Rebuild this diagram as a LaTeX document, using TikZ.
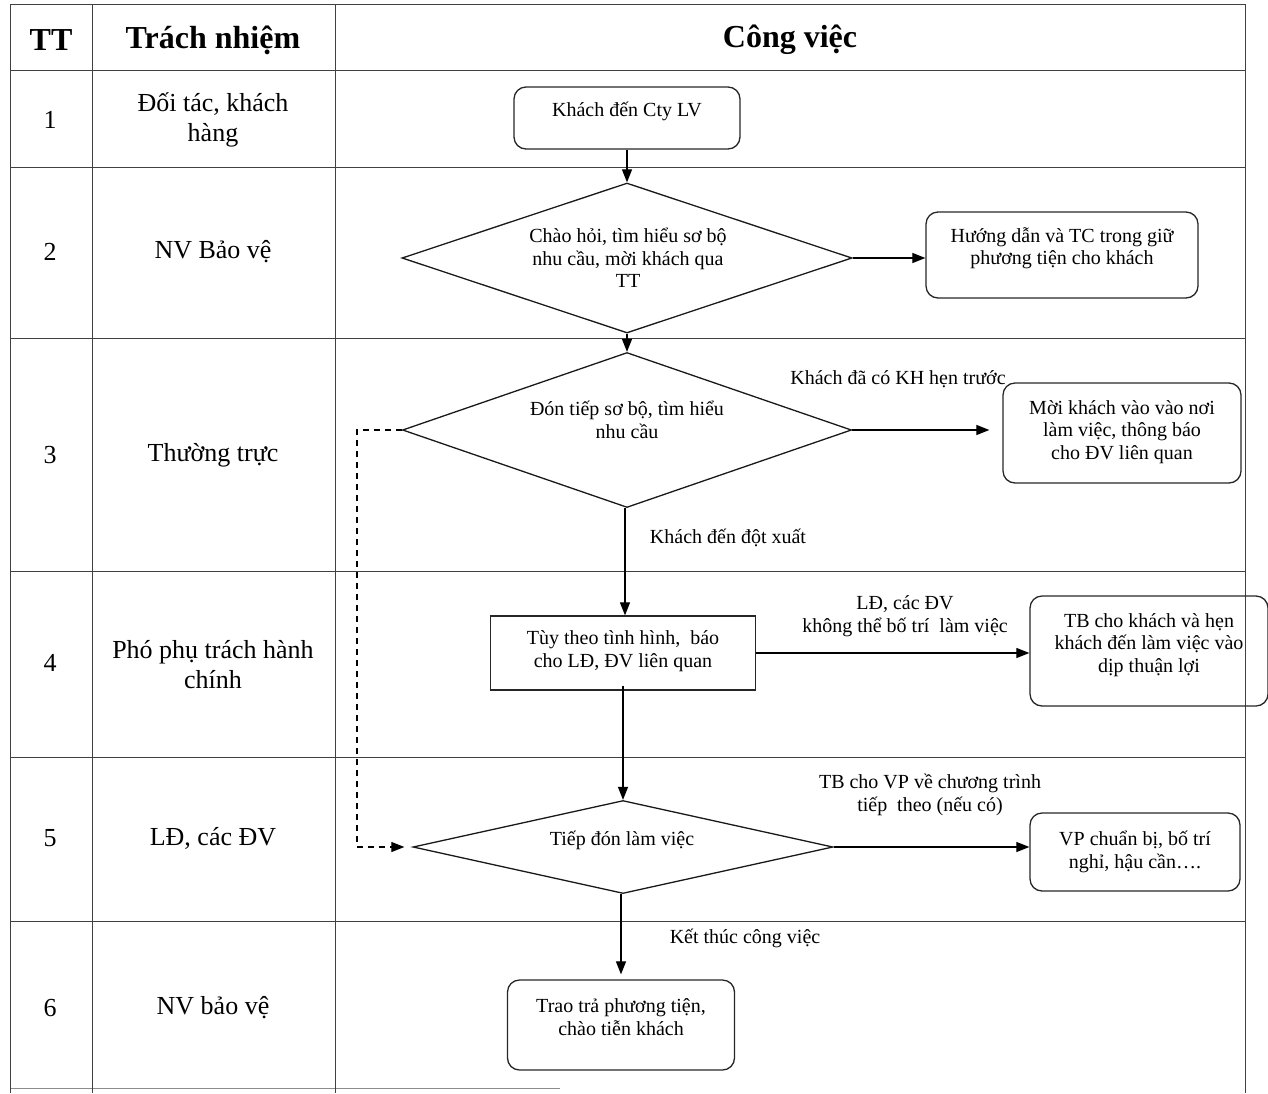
\documentclass[tikz,border=0pt]{standalone}
\usepackage{fontspec}
\setmainfont{Liberation Serif}
\usetikzlibrary{shapes.geometric,arrows.meta}
\begin{document}
\begin{tikzpicture}[x=1pt,y=-1pt,
 grid/.style={draw=black!75,line width=1pt},
 rbox/.style={draw=black!85,line width=1.3pt,rounded corners=12pt,inner sep=0pt},
 sbox/.style={draw=black!85,line width=1.3pt,inner sep=0pt},
 dia/.style={diamond,draw=black!90,line width=1.3pt,inner sep=0pt},
 txt/.style={align=center,font=\fontsize{20}{22.5}\selectfont,inner sep=0pt},
 cell/.style={align=center,font=\fontsize{26}{30}\selectfont,inner sep=0pt},
 head/.style={font=\fontsize{32}{36}\selectfont\bfseries,inner sep=0pt},
 arr/.style={-{Triangle[length=13pt,width=10pt]},line width=1.2pt},
 darr/.style={-{Triangle[length=13pt,width=10pt]},line width=1.2pt,dash pattern=on 6pt off 5pt},
]
\useasboundingbox (0,0) rectangle (1268,1093);
% table grid
\foreach \yy in {4,70,167,338,571,757,921}
  \draw[grid] (10,\yy) -- (1245,\yy);
\draw[draw=black!45,line width=0.8pt] (10,1088) -- (560,1088);
\foreach \xx in {10,92,335,1245}
  \draw[grid] (\xx,4) -- (\xx,1093);
% header
\node[head] (hTT) at (51,40) {TT};
\node[head] (hTN) at (213,40) {Trách nhiệm};
\node[head] (hCV) at (790,40) {Công việc};
% row numbers
\node[cell] (n1) at (50,120) {1};
\node[cell] (n2) at (50,252) {2};
\node[cell] (n3) at (50,455) {3};
\node[cell] (n4) at (50,663) {4};
\node[cell] (n5) at (50,838) {5};
\node[cell] (n6) at (50,1008) {6};
% responsibilities
\node[cell] (r1) at (213,120) {Đối tác, khách\\hàng};
\node[cell] (r2) at (213,252) {NV Bảo vệ};
\node[cell] (r3) at (213,455) {Thường trực};
\node[cell] (r4) at (213,665) {Phó phụ trách hành\\chính};
\node[cell] (r5) at (213,838) {LĐ, các ĐV};
\node[cell] (r6) at (213,1008) {NV bảo vệ};
% flow shapes
\node[rbox,minimum width=226pt,minimum height=62pt] (b1) at (627,118) {};
\node[dia,minimum width=450pt,minimum height=150pt] (d1) at (627,258) {};
\node[rbox,minimum width=272pt,minimum height=86pt] (b2) at (1062,255) {};
\node[dia,minimum width=449pt,minimum height=155pt] (d2) at (627,430) {};
\node[rbox,minimum width=238pt,minimum height=100pt] (b3) at (1122,433) {};
\node[sbox,minimum width=265pt,minimum height=74pt] (b4) at (623,653) {};
\node[rbox,minimum width=238pt,minimum height=110pt] (b5) at (1149,651) {};
\node[dia,minimum width=420pt,minimum height=93pt] (d3) at (623,847) {};
\node[rbox,minimum width=210pt,minimum height=78pt] (b6) at (1135,852) {};
\node[rbox,minimum width=227pt,minimum height=90pt] (b7) at (621,1025) {};
% flow texts
\node[txt] (t1) at (627,111) {Khách đến Cty LV};
\node[txt] (t2) at (628,258) {Chào hỏi, tìm hiểu sơ bộ\\nhu cầu, mời khách qua\\TT};
\node[txt] (t3) at (1062,248) {Hướng dẫn và TC trong giữ\\phương tiện cho khách};
\node[txt] (t4) at (627,420) {Đón tiếp sơ bộ, tìm hiểu\\nhu cầu};
\node[txt] (t5) at (1122,432) {Mời khách vào vào nơi\\làm việc, thông báo\\cho ĐV liên quan};
\node[txt] (t6) at (623,651) {Tùy theo tình hình,\ \ báo\\cho LĐ, ĐV liên quan};
\node[txt] (t7) at (1149,645) {TB cho khách và hẹn\\khách đến làm việc vào\\dịp thuận lợi};
\node[txt] (t8) at (622,840) {Tiếp đón làm việc};
\node[txt] (t9) at (1135,852) {VP chuẩn bị, bố trí\\nghỉ, hậu cần….};
\node[txt] (t10) at (621,1017) {Trao trả phương tiện,\\chào tiễn khách};
% edge labels
\node[txt] (l1) at (898,379) {Khách đã có KH hẹn trước};
\node[txt] (l2) at (728,538) {Khách đến đột xuất};
\node[txt] (l3) at (905,616) {LĐ, các ĐV\\không thể bố trí\ \ làm việc};
\node[txt] (l4) at (930,795) {TB cho VP về chương trình\\tiếp\ \ theo (nếu có)};
\node[txt] (l5) at (745,938) {Kết thúc công việc};
% connectors
\draw[arr] (b1.south) -- (d1.north);
\draw[arr] (d1.east) -- (b2.west |- d1.east);
\draw[arr] (d1.south) -- (d2.north);
\draw[arr,shorten >=13pt] (d2.east) -- (b3.west |- d2.east);
\draw[arr] (d2.south -| 625,0) -- (b4.north -| 625,0);
\draw[arr] (b4.east) -- (b5.west |- b4.east);
\draw[arr] ([yshift=5pt]b4.south) -- (d3.north);
\draw[arr] (d3.east) -- (b6.west |- d3.east);
\draw[arr] (d3.south -| b7.north) -- ([yshift=5pt]b7.north);
\coordinate (c1) at (357,430);
\coordinate (c2) at (357,847);
\draw[darr,shorten >=8pt] (d2.west) -- (c1) -- (c2) -- (d3.west);
\end{tikzpicture}
\end{document}
